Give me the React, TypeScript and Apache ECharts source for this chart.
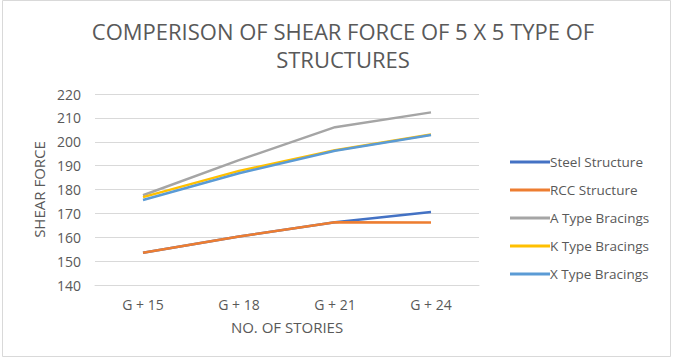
import React, { useEffect, useRef } from "react";
import * as echarts from "echarts";

const categories = ["G + 15", "G + 18", "G + 21", "G + 24"];
const steel = [153.5, 160.3, 166.3, 170.6];
const rcc = [153.5, 160.3, 166.3, 166.2];
const aType = [177.6, 192.3, 206.1, 212.3];
const kType = [176.8, 187.8, 196.4, 203.0];
const xType = [175.6, 186.8, 196.2, 202.8];
const seriesNames = ["Steel Structure", "RCC Structure", "A Type Bracings", "K Type Bracings", "X Type Bracings"];
const seriesData = [steel, rcc, aType, kType, xType];
const colors = ["#4472C4", "#ED7D31", "#A5A5A5", "#FFC000", "#5B9BD5"];
const yTicks = { min: 140, max: 220, interval: 10 };

const FONT = "'Open Sans', 'Noto Sans', sans-serif";
const TXT = "#595959";

export default function App() {
  const ref = useRef<HTMLDivElement>(null);
  useEffect(() => {
    document.body.style.margin = "0";
    const chart = echarts.init(ref.current!, null, { renderer: "svg" });
    chart.setOption({
      animation: false,
      backgroundColor: "#ffffff",
      color: colors,
      title: {
        text: "COMPERISON OF SHEAR FORCE OF 5 X 5 TYPE OF\nSTRUCTURES",
        left: 338,
        textAlign: "center",
        top: 12,
        textStyle: { fontFamily: FONT, fontSize: 22, fontWeight: "normal", color: TXT, lineHeight: 28 },
      },
      graphic: [
        {
          type: "rect",
          shape: { x: 2.5, y: 0.5, width: 668, height: 356 },
          style: { fill: "none", stroke: "#d9d9d9", lineWidth: 1 },
          silent: true,
        },
      ],
      legend: {
        orient: "vertical",
        left: 505,
        top: 150,
        itemGap: 14,
        itemWidth: 40,
        itemHeight: 3,
        icon: "rect",
        data: seriesNames,
        textStyle: { fontFamily: FONT, fontSize: 13.5, color: TXT, padding: [0, 0, 0, -5] },
      },
      grid: { left: 95, right: 200, top: 94, bottom: 73, containLabel: false },
      xAxis: {
        type: "category",
        data: categories,
        boundaryGap: true,
        name: "NO. OF STORIES",
        nameLocation: "middle",
        nameGap: 34,
        nameTextStyle: { fontFamily: FONT, fontSize: 15, color: TXT },
        axisLine: { show: true, lineStyle: { color: "#d9d9d9", width: 1 } },
        axisTick: { show: false },
        axisLabel: { fontFamily: FONT, fontSize: 14, color: TXT, margin: 12 },
      },
      yAxis: {
        type: "value",
        min: yTicks.min,
        max: yTicks.max,
        interval: yTicks.interval,
        name: "SHEAR FORCE",
        nameLocation: "middle",
        nameGap: 48,
        nameTextStyle: { fontFamily: FONT, fontSize: 15, color: TXT },
        axisLine: { show: false },
        axisTick: { show: false },
        axisLabel: { fontFamily: FONT, fontSize: 14, color: TXT, margin: 14 },
        splitLine: { lineStyle: { color: "#d9d9d9", width: 1 } },
      },
      series: seriesNames.map((name, i) => ({
        name,
        type: "line",
        data: seriesData[i],
        symbol: "none",
        lineStyle: { width: 2.5, color: colors[i] },
        itemStyle: { color: colors[i] },
      })),
    });
    return () => chart.dispose();
  }, []);
  return <div ref={ref} style={{ width: 679, height: 358 }} />;
}
